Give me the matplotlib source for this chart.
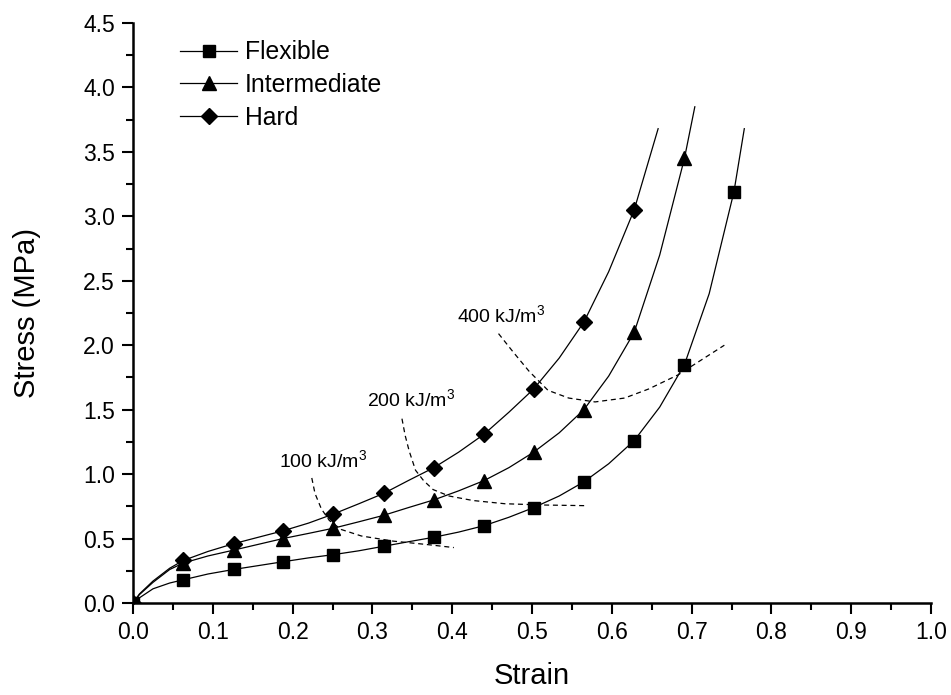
import numpy as np
import matplotlib
matplotlib.use("Agg")
import matplotlib.pyplot as plt
from matplotlib.lines import Line2D

plt.rcParams['font.family'] = ['Liberation Sans', 'DejaVu Sans']
plt.rcParams['mathtext.fontset'] = 'custom'
plt.rcParams['mathtext.rm'] = 'Liberation Sans'
plt.rcParams['mathtext.it'] = 'Liberation Sans:italic'

# marker positions (strain, stress in MPa)
strain_pts = [0.0, 0.063, 0.126, 0.188, 0.251, 0.314, 0.377, 0.44, 0.502, 0.565, 0.628, 0.691, 0.753]
flexible = [0.0, 0.18, 0.26, 0.32, 0.375, 0.44, 0.51, 0.60, 0.74, 0.94, 1.26, 1.85, 3.19]
intermediate = [0.0, 0.31, 0.41, 0.50, 0.58, 0.68, 0.80, 0.95, 1.17, 1.50, 2.10, 3.45]
hard = [0.0, 0.33, 0.46, 0.56, 0.69, 0.85, 1.05, 1.31, 1.66, 2.18, 3.05]

# extra points along the fitted curves
flex_cx = [0.008, 0.025, 0.046, 0.094, 0.157, 0.22, 0.283, 0.345, 0.408, 0.471, 0.534, 0.596, 0.66, 0.722, 0.766]
flex_cy = [0.04, 0.11, 0.155, 0.225, 0.29, 0.35, 0.405, 0.475, 0.55, 0.665, 0.83, 1.08, 1.52, 2.40, 3.68]
inter_cx = [0.008, 0.025, 0.046, 0.094, 0.157, 0.22, 0.283, 0.345, 0.408, 0.471, 0.534, 0.596, 0.66, 0.704]
inter_cy = [0.065, 0.16, 0.26, 0.365, 0.455, 0.54, 0.63, 0.74, 0.87, 1.05, 1.32, 1.76, 2.70, 3.85]
hard_cx = [0.008, 0.025, 0.046, 0.094, 0.157, 0.22, 0.283, 0.345, 0.408, 0.471, 0.534, 0.596, 0.658]
hard_cy = [0.07, 0.17, 0.27, 0.40, 0.51, 0.62, 0.77, 0.95, 1.17, 1.48, 1.90, 2.57, 3.68]

# iso-energy dashed curves
e100_x = [0.224, 0.228, 0.236, 0.246, 0.261, 0.286, 0.326, 0.366, 0.402]
e100_y = [0.97, 0.85, 0.73, 0.64, 0.57, 0.52, 0.48, 0.455, 0.43]
e200_x = [0.337, 0.341, 0.346, 0.354, 0.364, 0.376, 0.396, 0.426, 0.466, 0.516, 0.568]
e200_y = [1.43, 1.30, 1.18, 1.03, 0.95, 0.88, 0.83, 0.795, 0.77, 0.76, 0.755]
e400_x = [0.458, 0.476, 0.496, 0.52, 0.546, 0.579, 0.616, 0.646, 0.683, 0.741]
e400_y = [2.09, 1.95, 1.80, 1.65, 1.59, 1.56, 1.59, 1.66, 1.77, 2.0]

energy_labels = ['100 kJ/m$^3$', '200 kJ/m$^3$', '400 kJ/m$^3$']
label_x = [0.183, 0.293, 0.406]
label_y = [1.055, 1.53, 2.18]


def merge(px, py, cx, cy):
    pts = sorted(zip(list(px) + list(cx), list(py) + list(cy)))
    return [p[0] for p in pts], [p[1] for p in pts]


fig = plt.figure(figsize=(9.51, 6.95), dpi=100)
ax = fig.add_axes([0.1399, 0.1324, 0.8391, 0.8345])

series = [("Flexible", flexible, flex_cx, flex_cy, 's', 9),
          ("Intermediate", intermediate, inter_cx, inter_cy, '^', 10),
          ("Hard", hard, hard_cx, hard_cy, 'D', 8.5)]

handles = []
for name, vals, cx, cy, mk, ms in series:
    xs = strain_pts[:len(vals)]
    lx, ly = merge(xs, vals, cx, cy)
    ax.plot(lx, ly, color='black', lw=0.9, zorder=2)
    ax.plot(xs, vals, linestyle='none', marker=mk, ms=ms, color='black', zorder=3)
    handles.append(Line2D([], [], color='black', lw=0.9, marker=mk, ms=ms, label=name))

for ex, ey in [(e100_x, e100_y), (e200_x, e200_y), (e400_x, e400_y)]:
    ax.plot(ex, ey, color='black', lw=0.9, linestyle=(0, (4, 3)), zorder=1)

for t, x, y in zip(energy_labels, label_x, label_y):
    ax.text(x, y, t, fontsize=14, ha='left', va='baseline')

ax.set_xlim(0, 1.0)
ax.set_ylim(0, 4.5)
ax.set_xticks(np.arange(0, 1.01, 0.1))
ax.set_yticks(np.arange(0, 4.51, 0.5))
ax.set_xticks(np.arange(0.05, 1.0, 0.1), minor=True)
ax.set_yticks(np.arange(0.25, 4.5, 0.5), minor=True)
ax.xaxis.set_major_formatter(matplotlib.ticker.FormatStrFormatter('%.1f'))
ax.yaxis.set_major_formatter(matplotlib.ticker.FormatStrFormatter('%.1f'))
ax.tick_params(which='major', direction='out', length=8, width=1.5, labelsize=16.5, pad=5)
ax.tick_params(which='minor', direction='out', length=5, width=1.5)
for s in ['top', 'right']:
    ax.spines[s].set_visible(False)
for s in ['left', 'bottom']:
    ax.spines[s].set_linewidth(1.8)

ax.set_xlabel("Strain", fontsize=21, labelpad=13)
ax.set_ylabel("Stress (MPa)", fontsize=21, labelpad=30)

ax.legend(handles=handles, loc='upper left', bbox_to_anchor=(0.059, 0.97), frameon=False,
          fontsize=17.8, handlelength=2.3, handletextpad=0.32, labelspacing=0.35,
          borderpad=0, borderaxespad=0)

fig.savefig("out.png", dpi=100)
